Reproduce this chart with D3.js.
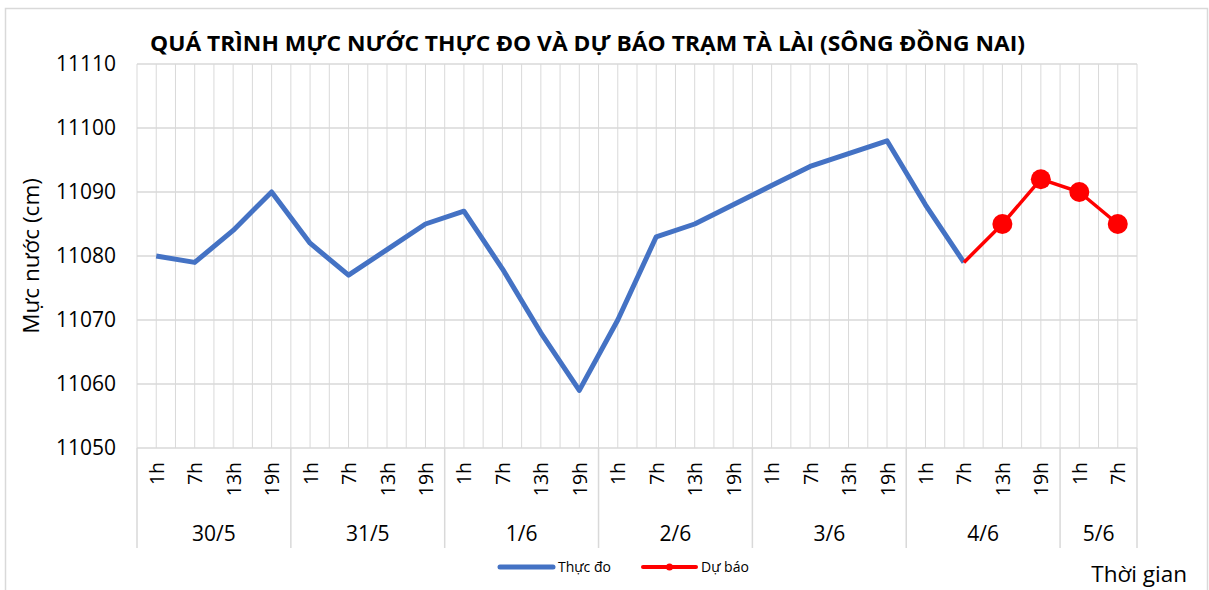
<!DOCTYPE html>
<html>
<head>
<meta charset="utf-8">
<script src="https://cdn.jsdelivr.net/npm/d3@7"></script>
<style>
  body { margin: 0; background: #fff; }
  text { font-family: "Open Sans", "Noto Sans", sans-serif; fill: #000; }
</style>
</head>
<body>
<svg id="chart" width="1209" height="590"></svg>
<script>
const days = ['30/5', '31/5', '1/6', '2/6', '3/6', '4/6', '5/6']
const hoursPerDay = [['1h', '7h', '13h', '19h'], ['1h', '7h', '13h', '19h'], ['1h', '7h', '13h', '19h'],
  ['1h', '7h', '13h', '19h'], ['1h', '7h', '13h', '19h'], ['1h', '7h', '13h', '19h'], ['1h', '7h']]
const observed = [11080, 11079, 11084, 11090, 11082, 11077, 11081, 11085, 11087, 11078, 11068, 11059,
  11070, 11083, 11085, 11088, 11091, 11094, 11096, 11098, 11088, 11079]
// forecast starts at the last observed point (4/6 7h)
const forecastStart = 21
const forecast = [11079, 11085, 11092, 11090, 11085]
const yTicks = [11050, 11060, 11070, 11080, 11090, 11100, 11110]

const svg = d3.select('#chart')
const pLeft = 137, pRight = 1137, pTop = 64, pBottom = 448

// flat list of categories
const cats = []
days.forEach((d, i) => hoursPerDay[i].forEach(h => cats.push({ day: d, hour: h, key: d + '|' + h })))

const x = d3.scaleBand().domain(cats.map(c => c.key)).range([pLeft, pRight]).padding(0)
const y = d3.scaleLinear().domain([11050, 11110]).range([pBottom, pTop])

// outer border
svg.append('rect').attr('x', 5.5).attr('y', 8.5).attr('width', 1202).attr('height', 600)
  .attr('fill', 'none').attr('stroke', '#d9d9d9').attr('stroke-width', 1.5)

// vertical grid: slot edges and centres
const vx = []
cats.forEach(c => { vx.push(x(c.key)); vx.push(x(c.key) + x.bandwidth() / 2) })
vx.push(pRight)
svg.append('g').selectAll('line').data(vx).join('line')
  .attr('x1', d => d).attr('x2', d => d).attr('y1', pTop).attr('y2', pBottom)
  .attr('stroke', '#d9d9d9').attr('stroke-width', 1)

// horizontal grid
svg.append('g').selectAll('line').data(yTicks).join('line')
  .attr('x1', pLeft).attr('x2', pRight).attr('y1', d => y(d)).attr('y2', d => y(d))
  .attr('stroke', '#d9d9d9').attr('stroke-width', 1.3)

// y labels
svg.append('g').selectAll('text').data(yTicks).join('text')
  .attr('x', 116).attr('y', d => y(d)).attr('dy', '0.35em')
  .attr('text-anchor', 'end').style('font-size', '21px')
  .text(d => d)

// day separators on category axis
let idx = 0
const sep = [pLeft]
days.forEach((d, i) => { idx += hoursPerDay[i].length; sep.push(pLeft + idx * x.bandwidth()) })
svg.append('g').selectAll('line').data(sep).join('line')
  .attr('x1', d => d).attr('x2', d => d).attr('y1', pBottom).attr('y2', 548)
  .attr('stroke', '#d9d9d9').attr('stroke-width', 1.5)

// hour labels
svg.append('g').selectAll('text').data(cats).join('text')
  .attr('transform', d => `translate(${x(d.key) + x.bandwidth() / 2 + 7.5},462) rotate(-90)`)
  .attr('text-anchor', 'end').style('font-size', '19.5px')
  .text(d => d.hour)

// day labels
svg.append('g').selectAll('text').data(days).join('text')
  .attr('x', (d, i) => (sep[i] + sep[i + 1]) / 2).attr('y', 541)
  .attr('text-anchor', 'middle').style('font-size', '21px')
  .text(d => d)

// observed line
const line = d3.line().x(d => x(d.key) + x.bandwidth() / 2).y(d => y(d.v))
const obsData = observed.map((v, i) => ({ key: cats[i].key, v }))
svg.append('path').datum(obsData).attr('d', line)
  .attr('fill', 'none').attr('stroke', '#4472C4').attr('stroke-width', 5).attr('stroke-linejoin', 'round')

// forecast line
const fcData = forecast.map((v, i) => ({ key: cats[forecastStart + i].key, v }))
svg.append('path').datum(fcData).attr('d', line)
  .attr('fill', 'none').attr('stroke', '#FF0000').attr('stroke-width', 3.5).attr('stroke-linejoin', 'round')
svg.append('g').selectAll('circle').data(fcData.slice(1)).join('circle')
  .attr('cx', d => x(d.key) + x.bandwidth() / 2).attr('cy', d => y(d.v)).attr('r', 10)
  .attr('fill', '#FF0000')

// title
svg.append('text').attr('x', 150).attr('y', 51)
  .attr('textLength', 875).attr('lengthAdjust', 'spacingAndGlyphs')
  .style('font-size', '22px').style('font-weight', 'bold')
  .text('QUÁ TRÌNH MỰC NƯỚC THỰC ĐO VÀ DỰ BÁO TRẠM TÀ LÀI (SÔNG ĐỒNG NAI)')

// y axis title
svg.append('text').attr('transform', 'translate(39,256) rotate(-90)').attr('text-anchor', 'middle')
  .style('font-size', '22.5px').text('Mực nước (cm)')

// x axis title
svg.append('text').attr('x', 1187).attr('y', 582).attr('text-anchor', 'end')
  .style('font-size', '22.5px').text('Thời gian')

// legend
const lg = svg.append('g')
lg.append('line').attr('x1', 500).attr('x2', 553).attr('y1', 567).attr('y2', 567)
  .attr('stroke', '#4472C4').attr('stroke-width', 5).attr('stroke-linecap', 'round')
lg.append('text').attr('x', 558).attr('y', 567).attr('dy', '0.35em').style('font-size', '14px').text('Thực đo')
lg.append('line').attr('x1', 643).attr('x2', 696).attr('y1', 567).attr('y2', 567)
  .attr('stroke', '#FF0000').attr('stroke-width', 4).attr('stroke-linecap', 'round')
lg.append('circle').attr('cx', 669.5).attr('cy', 567).attr('r', 3.5).attr('fill', '#FF0000')
lg.append('text').attr('x', 701).attr('y', 567).attr('dy', '0.35em').style('font-size', '14px').text('Dự báo')
</script>
</body>
</html>
